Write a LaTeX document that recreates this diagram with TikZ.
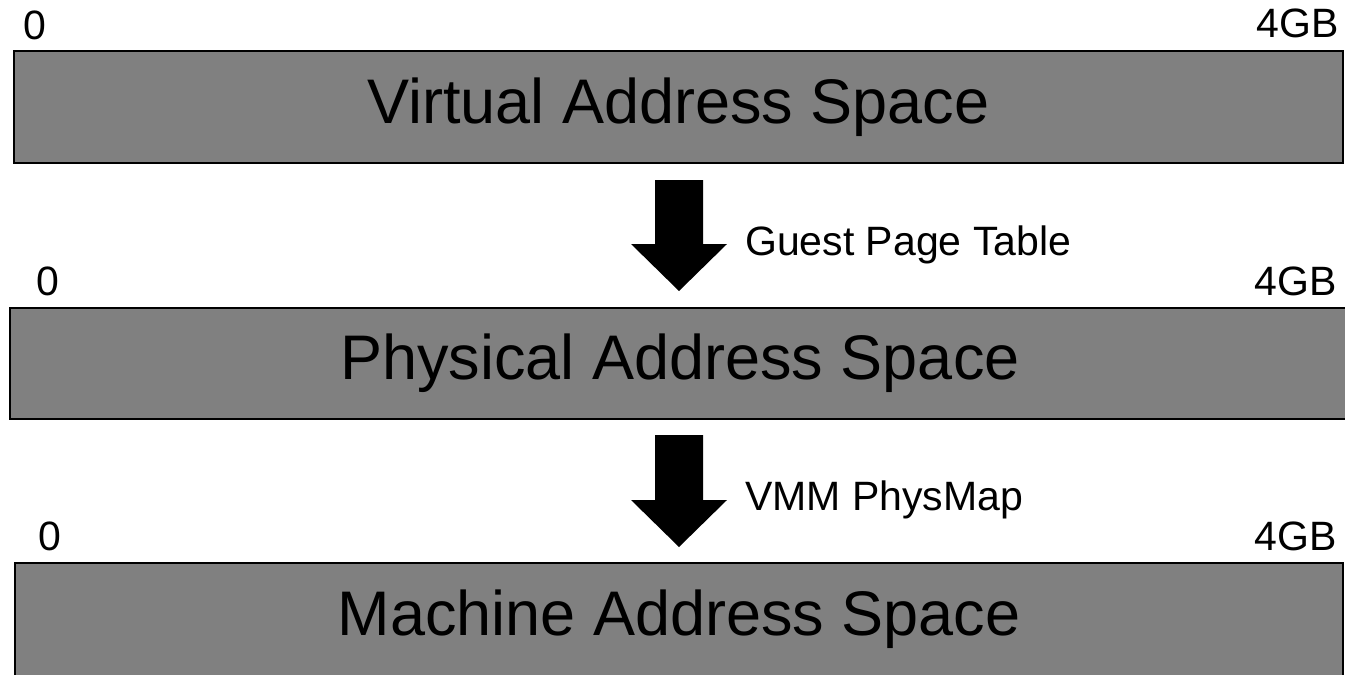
\documentclass[tikz,border=0pt]{standalone}
\usepackage{fontspec}
\setmainfont{Liberation Sans}
\definecolor{spacegray}{RGB}{128,128,128}
\tikzset{
  spacebox/.style={draw=black, line width=2.5pt, fill=spacegray, rectangle,
    inner sep=0pt, font=\fontsize{63}{76}\selectfont},
  bound/.style={inner sep=0pt, font=\fontsize{41}{49}\selectfont},
  maplabel/.style={inner sep=0pt, anchor=base west, font=\fontsize{41}{49}\selectfont},
  blockarrow/.style={fill=black, draw=none}
}
\begin{document}
\begin{tikzpicture}[x=1pt, y=-1pt]
\useasboundingbox (0,0) rectangle (1345,675);

% the three address spaces
\node[spacebox, minimum width=1329pt, minimum height=112pt] (virt) at (678.5,107) {Virtual Address Space};
\node[spacebox, minimum width=1340pt, minimum height=111pt] (phys) at (680,363.5) {Physical Address Space};
\node[spacebox, minimum width=1328pt, minimum height=113pt] (mach) at (679,619.5) {Machine Address Space};

% range bounds above each space
\node[bound, anchor=base west] (v0) at (23,39) {0};
\node[bound, anchor=base east] (v4) at (1339,37) {4GB};
\node[bound, anchor=base west] (p0) at (36,295) {0};
\node[bound, anchor=base east] (p4) at (1337,295) {4GB};
\node[bound, anchor=base west] (m0) at (38,550) {0};
\node[bound, anchor=base east] (m4) at (1337,550) {4GB};

% translation arrows
\fill[blockarrow] (655,180) -- (703,180) -- (703,244) -- (727,244) -- (679,291)
  -- (631,244) -- (655,244) -- cycle;
\fill[blockarrow] (655,435) -- (703,435) -- (703,500) -- (727,500) -- (679,547)
  -- (631,500) -- (655,500) -- cycle;

\node[maplabel] (gpt) at (745,255) {Guest Page Table};
\node[maplabel] (pmap) at (745,510) {VMM PhysMap};
\end{tikzpicture}
\end{document}
